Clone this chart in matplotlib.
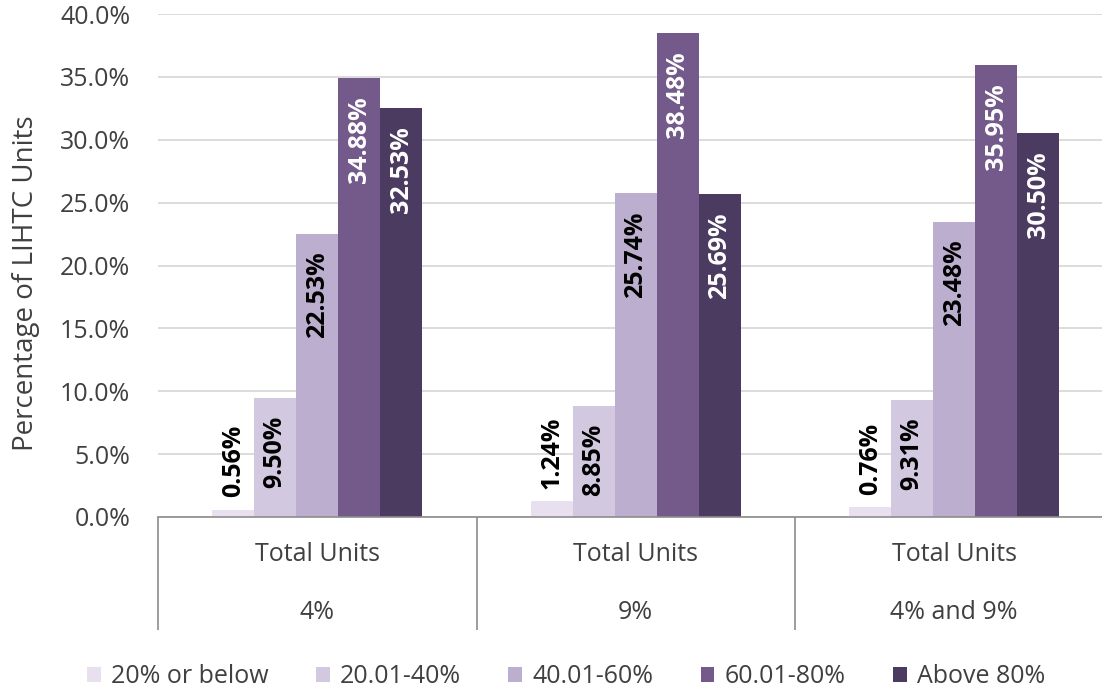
import numpy as np
import matplotlib
matplotlib.use("Agg")
import matplotlib.pyplot as plt
from matplotlib.patches import Patch
import matplotlib.transforms as mtransforms
from matplotlib.ticker import FuncFormatter

plt.rcParams['font.family'] = ['Open Sans', 'DejaVu Sans']

# data
groups = ["4%", "9%", "4% and 9%"]
top_label = "Total Units"
series = ["20% or below", "20.01-40%", "40.01-60%", "60.01-80%", "Above 80%"]
vals_20_below = [0.56, 1.24, 0.76]
vals_20_40 = [9.50, 8.85, 9.31]
vals_40_60 = [22.53, 25.74, 23.48]
vals_60_80 = [34.88, 38.48, 35.95]
vals_above_80 = [32.53, 25.69, 30.50]
yticks = [0, 5, 10, 15, 20, 25, 30, 35, 40]

values = [vals_20_below, vals_20_40, vals_40_60, vals_60_80, vals_above_80]
colors = ["#E8E0EE", "#D2C9E1", "#BCAECE", "#735A8B", "#4C3B61"]
label_colors = ["black", "black", "black", "white", "white"]
text_col = "#404040"
fs = 18

fig = plt.figure(figsize=(11.02, 6.94), dpi=100)
ax = fig.add_axes([158 / 1102, 177 / 694, 955.5 / 1102, 503 / 694])

x = np.arange(len(groups))
w = 0.132
for i, (vals, c, lc) in enumerate(zip(values, colors, label_colors)):
    xs = x + (i - 2) * w
    ax.bar(xs, vals, width=w, color=c, zorder=2)
    for xi, v in zip(xs, vals):
        if v < 5:
            # too short for the label, put it above the bar
            ax.annotate(f"{v:.2f}%", (xi, v), xytext=(0, 9), textcoords="offset points",
                        rotation=90, ha="center", va="bottom", fontsize=fs,
                        fontweight="bold", color="black")
        else:
            ax.annotate(f"{v:.2f}%", (xi, v), xytext=(0, -13), textcoords="offset points",
                        rotation=90, ha="center", va="top", fontsize=fs,
                        fontweight="bold", color=lc)

ax.set_ylim(0, 40)
ax.set_xlim(-0.5, 2.5)
ax.set_yticks(yticks)
ax.yaxis.set_major_formatter(FuncFormatter(lambda v, p: f"{v:.1f}%"))
ax.tick_params(axis="y", length=0, pad=20, labelsize=fs, labelcolor=text_col)
ax.grid(axis="y", color="#D9D9D9", linewidth=1.3, zorder=0)
ax.set_axisbelow(True)

for s in ["top", "right", "left"]:
    ax.spines[s].set_visible(False)
ax.spines["bottom"].set_color("#8C8C8C")
ax.spines["bottom"].set_linewidth(1.2)

# category dividers as long minor ticks
ax.set_xticks(x)
ax.set_xticklabels([])
ax.tick_params(axis="x", which="major", length=0)
ax.set_xticks([-0.5, 0.5, 1.5, 2.5], minor=True)
ax.tick_params(axis="x", which="minor", length=81, width=1.2, color="#8C8C8C", direction="out")

trans = mtransforms.blended_transform_factory(ax.transData, ax.transAxes)
for xi, g in zip(x, groups):
    ax.text(xi, -0.0755, top_label, transform=trans, ha="center", va="center",
            fontsize=fs, color=text_col)
    ax.text(xi, -0.189, g, transform=trans, ha="center", va="center",
            fontsize=fs, color=text_col)

ax.set_ylabel("Percentage of LIHTC Units", fontsize=20, color=text_col)
ax.yaxis.set_label_coords(-0.1235, 0.465)

handles = [Patch(facecolor=c) for c in colors]
fig.legend(handles, series, loc="center", bbox_to_anchor=(0.5136, 0.0245), ncol=5,
           frameon=False, fontsize=fs, labelcolor=text_col, handlelength=0.55,
           handleheight=0.55, handletextpad=0.4, columnspacing=1.9)

fig.savefig("out.png", dpi=100)
